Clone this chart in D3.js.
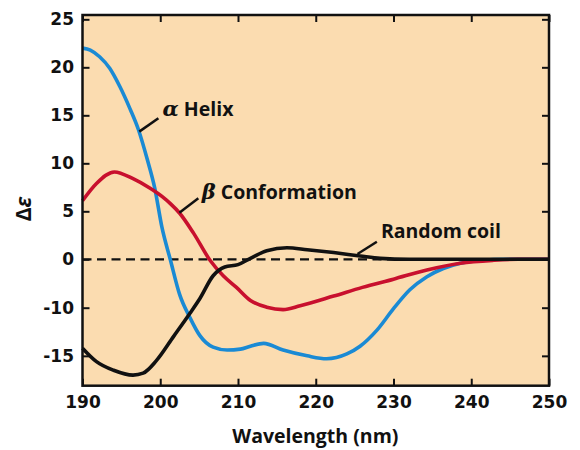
<!DOCTYPE html>
<html lang="en">
<head>
  <meta charset="UTF-8">
  <title>CD spectra</title>
  <script src="https://d3js.org/d3.v7.min.js"></script>
  <style>
    body { margin: 0; background: #fff; font-family: "Open Sans", Arial, sans-serif; }
    .axis text { font-weight: bold; font-size: 17px; fill: #111; font-family: "DejaVu Sans", sans-serif; }
    .axis line { stroke: #111; stroke-width: 2; }
    .axis path { display: none; }
  </style>
</head>
<body>
  <div id="chart"></div>

  <script>
    // wavelength ticks (nm) and the Δε ticks as printed on the figure
    const xTicks = [190, 200, 210, 220, 230, 240, 250];
    const yTicks = [25, 20, 15, 10, 5, 0, -10, -15];

    // [wavelength nm, Δε]
    const alphaHelix = [
      [190, 22.0], [191, 21.8], [192.2, 21.1], [193.5, 19.9], [194.8, 18.0], [196.1, 15.7],
      [197.2, 13.5], [198.3, 10.5], [199.3, 7.4], [200.2, 3.4], [201.3, -0.1], [202.5, -7.3],
      [203.8, -11.0], [205.1, -12.9], [206.8, -14.1], [208.6, -14.4], [210.3, -14.3],
      [211.6, -14.0], [213.3, -13.7], [215.8, -14.4], [218.9, -15.0], [221.4, -15.3],
      [224.0, -14.8], [225.7, -14.0], [227.9, -12.3], [230.0, -10.1], [232.1, -6.3],
      [234.3, -3.6], [236.4, -1.9], [238.6, -0.8], [240.7, -0.3], [245, 0], [250, 0]
    ];
    const betaConformation = [
      [190, 6.1], [191.8, 7.9], [194.1, 9.1], [196.5, 8.4], [198.7, 7.4], [200.3, 6.5],
      [201.3, 5.8], [202.5, 4.8], [204.3, 2.7], [206.4, -0.2], [208.1, -3.4], [209.8, -5.8],
      [211.6, -8.5], [213.7, -9.9], [215.8, -10.2], [218.0, -9.6], [222.3, -7.6],
      [226.0, -5.8], [230.0, -4.1], [234.3, -2.2], [238.6, -0.8],
      [242.9, -0.2], [246, 0], [250, 0]
    ];
    const randomCoil = [
      [190, -14.2], [191.8, -15.6], [194.0, -16.5], [196.5, -17.0], [197.8, -16.8],
      [199.5, -15.5], [201.7, -13.0], [203.8, -10.6], [205.1, -8.1], [206.8, -3.4],
      [208.3, -1.6], [210.0, -1.1], [211.6, 0.1], [213.7, 0.9], [216.3, 1.2], [218.9, 1.0],
      [222.3, 0.7], [225.7, 0.35], [228.3, 0.1], [232, 0], [240, 0], [250, 0]
    ];

    // labels: [text start nm, baseline Δε], leader [[nm, Δε], [nm, Δε]]
    const labels = [
      { greek: "α", name: " Helix", at: [200.3, 14.9], leader: [[197.3, 13.3], [199.76, 14.7]] },
      { greek: "β", name: " Conformation", at: [205.34, 6.25], leader: [[202.46, 4.85], [204.9, 6.35]] },
      { greek: "", name: "Random coil", at: [228.38, 2.19], leader: [[225.37, 0.55], [227.86, 1.83]] }
    ];

    const W = 580, H = 450;
    const margin = { top: 15, right: 31, bottom: 64.3, left: 82.5 };
    const w = W - margin.left - margin.right;
    const h = H - margin.top - margin.bottom;

    const svg = d3.select("#chart").append("svg")
      .attr("width", W)
      .attr("height", H);
    const g = svg.append("g").attr("transform", `translate(${margin.left},${margin.top})`);

    const x = d3.scaleLinear().domain([190, 250]).range([0, w]);
    // the printed axis is not linear: 0 to -10 takes the room of 5 units
    const y = d3.scaleLinear()
      .domain([-18.1, -10, 0, 25.45])
      .range([h, h - 78, h - 126.4, 0]);

    g.append("rect")
      .attr("width", w).attr("height", h)
      .attr("fill", "#fbdcb0");

    // zero line
    g.append("line")
      .attr("x1", 0).attr("x2", w)
      .attr("y1", y(0)).attr("y2", y(0))
      .attr("stroke", "#111")
      .attr("stroke-width", 2.2)
      .attr("stroke-dasharray", "9,5.5");

    const line = d3.line()
      .x(d => x(d[0]))
      .y(d => y(d[1]))
      .curve(d3.curveMonotoneX);

    const series = [
      [alphaHelix, "#1a8ad4"],
      [betaConformation, "#c8102e"],
      [randomCoil, "#111"]
    ];
    series.forEach(([data, color]) => {
      g.append("path")
        .datum(data)
        .attr("fill", "none")
        .attr("stroke", color)
        .attr("stroke-width", 3.6)
        .attr("stroke-linejoin", "round")
        .attr("d", line);
    });

    // axes, ticks on all four sides pointing inward; plain hyphen for negatives
    const fmt = d => String(d);
    g.append("g").attr("class", "axis")
      .attr("transform", `translate(0,${h})`)
      .call(d3.axisBottom(x).tickValues(xTicks).tickSize(-7).tickPadding(10).tickFormat(fmt));
    g.append("g").attr("class", "axis")
      .call(d3.axisTop(x).tickValues(xTicks).tickSize(-7).tickFormat(""));
    g.append("g").attr("class", "axis")
      .call(d3.axisLeft(y).tickValues(yTicks).tickSize(-7).tickPadding(8.5).tickFormat(fmt));
    g.append("g").attr("class", "axis")
      .attr("transform", `translate(${w},0)`)
      .call(d3.axisRight(y).tickValues(yTicks).tickSize(-7).tickFormat(""));

    g.append("rect")
      .attr("width", w).attr("height", h)
      .attr("fill", "none")
      .attr("stroke", "#111")
      .attr("stroke-width", 2.5);

    // curve labels
    labels.forEach(l => {
      g.append("line")
        .attr("x1", x(l.leader[0][0])).attr("y1", y(l.leader[0][1]))
        .attr("x2", x(l.leader[1][0])).attr("y2", y(l.leader[1][1]))
        .attr("stroke", "#111")
        .attr("stroke-width", 2.5);
      const t = g.append("text")
        .attr("x", x(l.at[0])).attr("y", y(l.at[1]))
        .attr("font-size", 19.5)
        .attr("font-weight", "bold")
        .attr("fill", "#111");
      if (l.greek) {
        t.append("tspan")
          .attr("font-family", "'DejaVu Serif', serif")
          .attr("font-style", "italic")
          .attr("font-weight", "bold")
          .attr("font-size", 21)
          .text(l.greek);
      }
      t.append("tspan").text(l.name);
    });

    // axis titles
    svg.append("text")
      .attr("x", margin.left + x(209.27)).attr("y", 443)
      .attr("font-size", 19.5)
      .attr("font-weight", "bold")
      .attr("fill", "#111")
      .text("Wavelength (nm)");

    const yl = svg.append("text")
      .attr("transform", "translate(31,209) rotate(-90)")
      .attr("text-anchor", "middle")
      .attr("font-size", 21)
      .attr("font-weight", "bold")
      .attr("fill", "#111");
    yl.append("tspan").text("Δ");
    yl.append("tspan").attr("font-style", "italic").text("ε");
  </script>
</body>
</html>
